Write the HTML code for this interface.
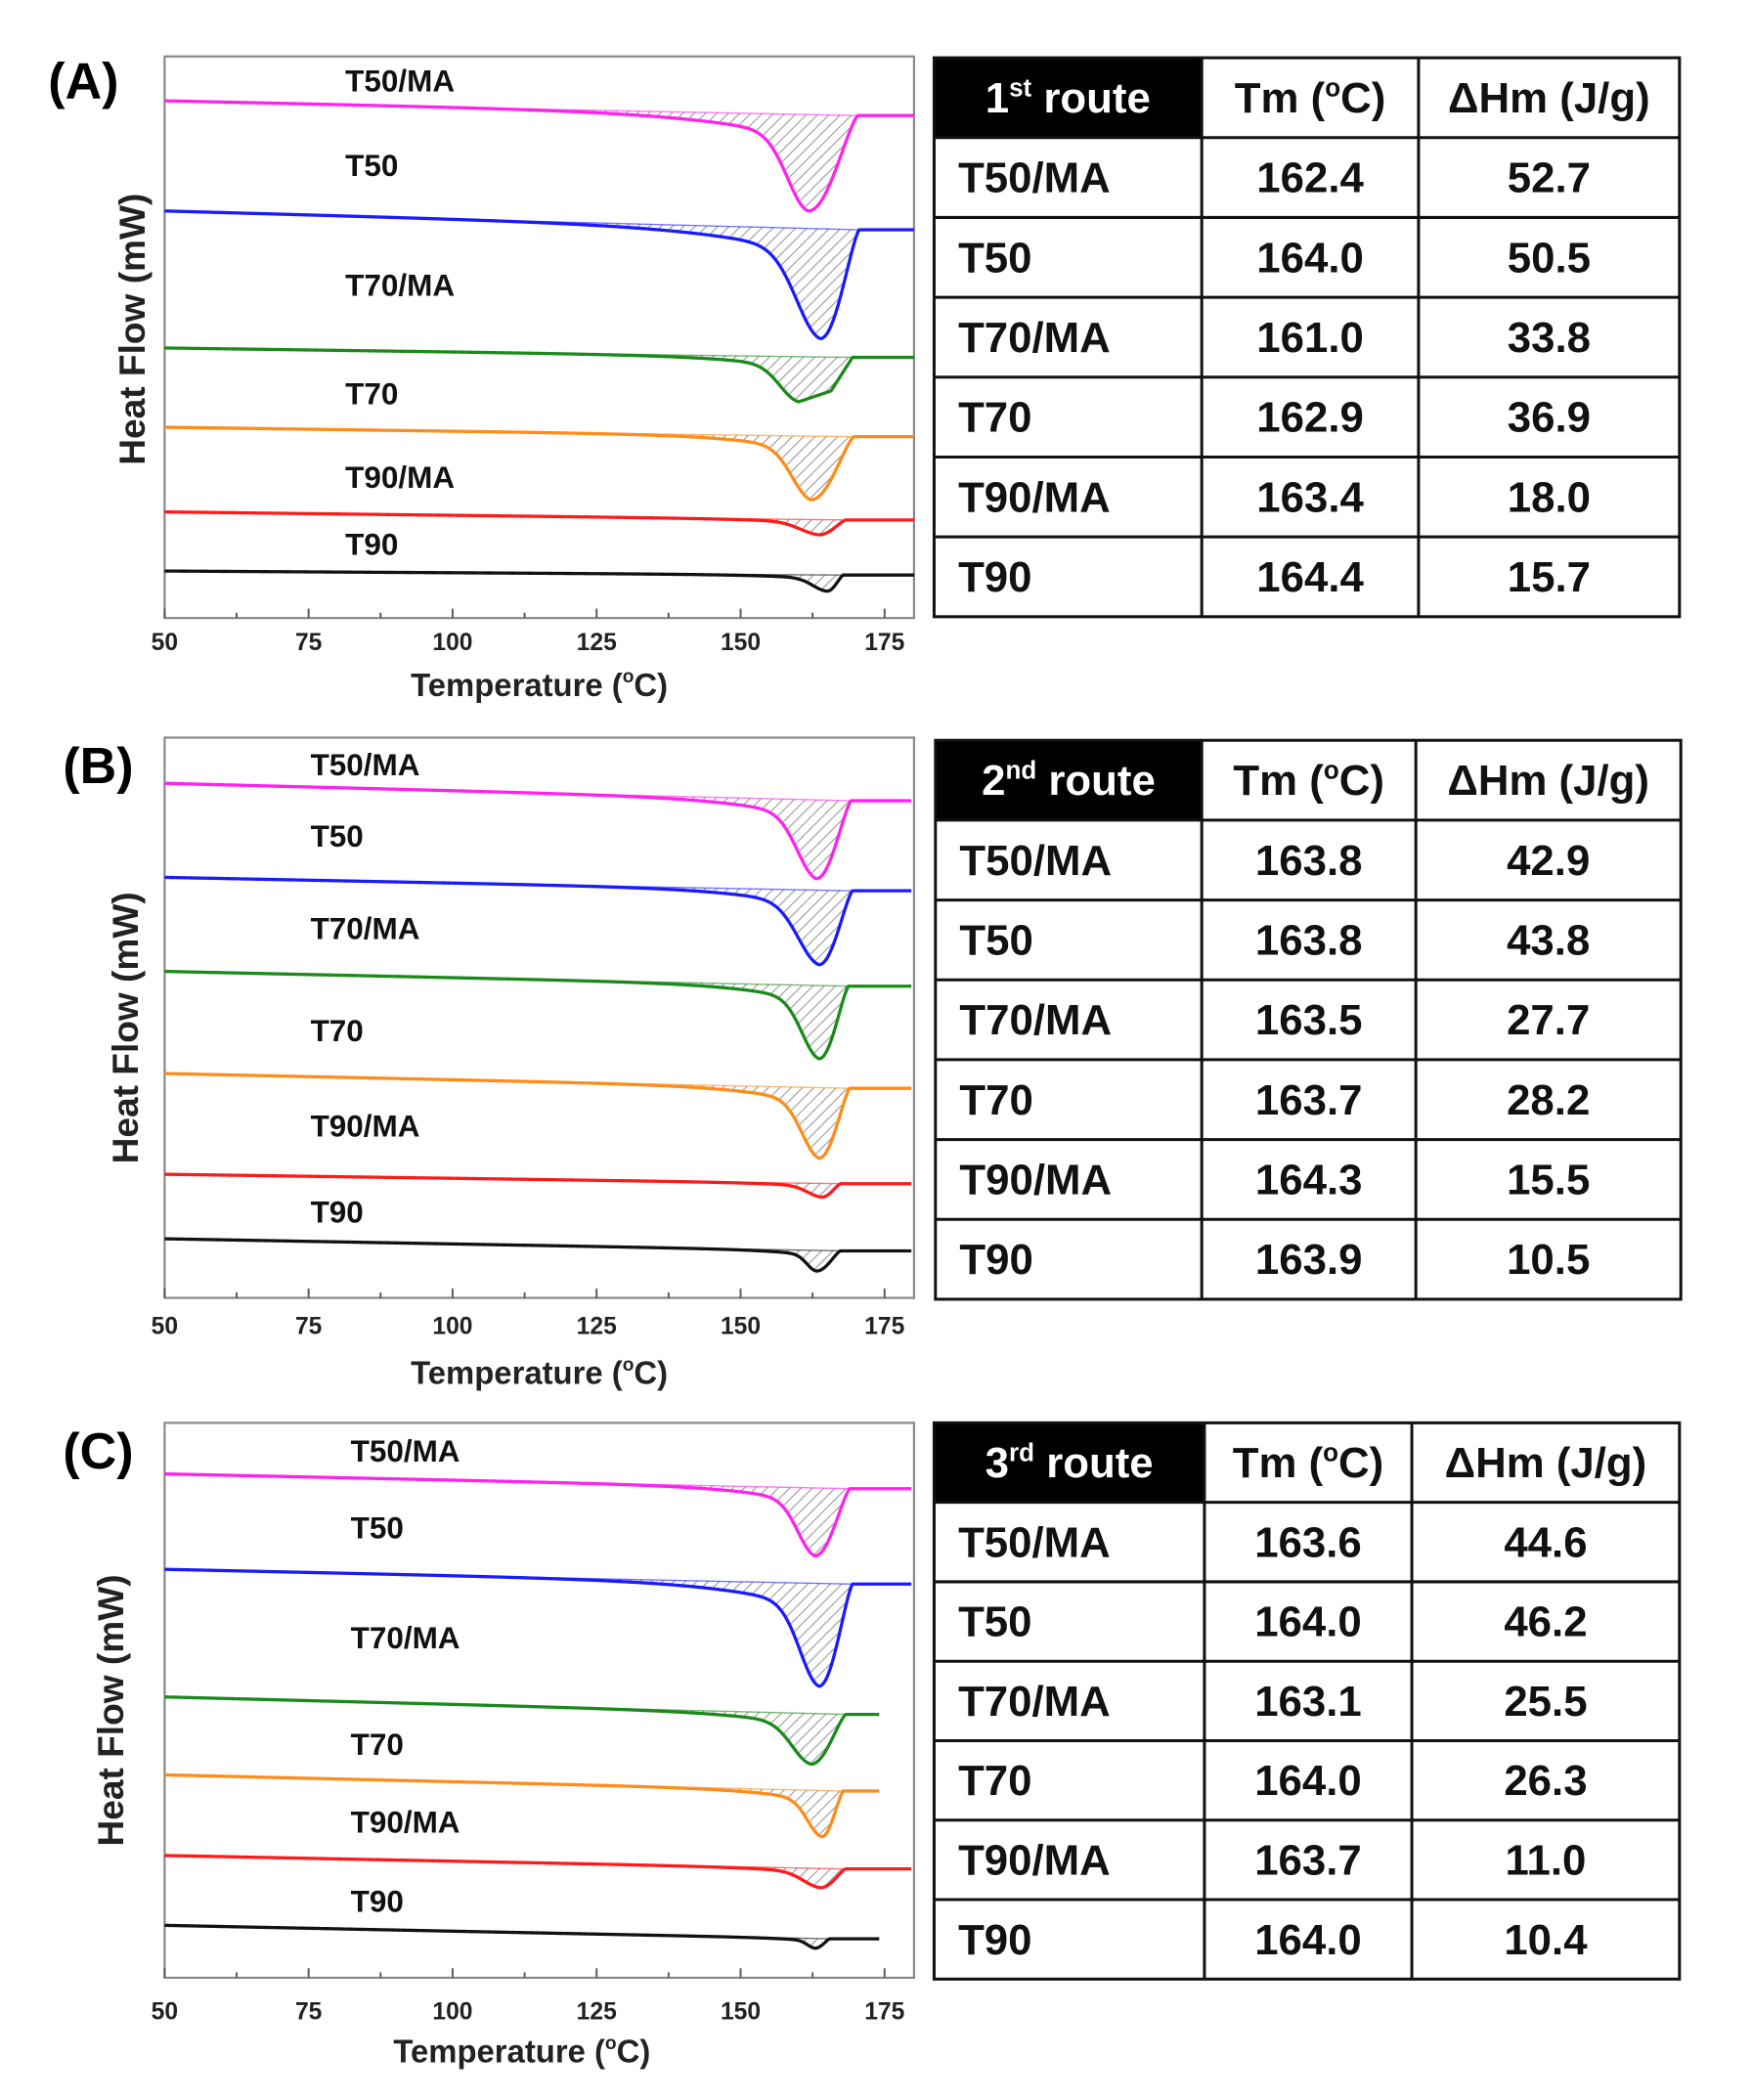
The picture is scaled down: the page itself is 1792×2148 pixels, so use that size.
<!DOCTYPE html>
<html><head><meta charset="utf-8"><style>
html,body{margin:0;padding:0;background:#fff;}
svg{display:block;}
text{font-family:"Liberation Sans",Arial,sans-serif;font-weight:bold;}
</style></head><body>
<svg id="s" width="1792" height="2148" viewBox="0 0 1300 1558.3" xmlns="http://www.w3.org/2000/svg">
<defs>
<pattern id="h" patternUnits="userSpaceOnUse" width="6" height="6" patternTransform="rotate(45)">
<rect width="6" height="6" fill="#fff"/><line x1="0" y1="0" x2="0" y2="6" stroke="#999" stroke-width="1.6"/>
</pattern>
</defs>
<rect width="1300" height="1558.3" fill="#fff"/>
<g transform="scale(0.993,0.997)">
<g id="plots"></g>

<text x="36" y="73" font-size="38">(A)</text>
<text x="47" y="583" font-size="38">(B)</text>
<text x="47" y="1093" font-size="38">(C)</text>

<text transform="translate(108,245) rotate(-90)" font-size="27" text-anchor="middle" fill="#222">Heat Flow (mW)</text>
<text transform="translate(103,765) rotate(-90)" font-size="27" text-anchor="middle" fill="#222">Heat Flow (mW)</text>
<text transform="translate(92,1273) rotate(-90)" font-size="27" text-anchor="middle" fill="#222">Heat Flow (mW)</text>

<g font-size="23" fill="#111">
<text x="258" y="68">T50/MA</text><text x="258" y="131">T50</text><text x="258" y="220">T70/MA</text>
<text x="258" y="301">T70</text><text x="258" y="363">T90/MA</text><text x="258" y="413">T90</text>
<text x="232" y="577">T50/MA</text><text x="232" y="630">T50</text><text x="232" y="699">T70/MA</text>
<text x="232" y="775">T70</text><text x="232" y="846">T90/MA</text><text x="232" y="910">T90</text>
<text x="262" y="1088">T50/MA</text><text x="262" y="1145">T50</text><text x="262" y="1227">T70/MA</text>
<text x="262" y="1306">T70</text><text x="262" y="1364">T90/MA</text><text x="262" y="1423">T90</text>
</g>

<g font-size="18" fill="#222" text-anchor="middle">
<text x="123" y="484">50</text><text x="230.6" y="484">75</text><text x="338.2" y="484">100</text><text x="445.8" y="484">125</text><text x="553.4" y="484">150</text><text x="661" y="484">175</text>
<text x="123" y="993">50</text><text x="230.6" y="993">75</text><text x="338.2" y="993">100</text><text x="445.8" y="993">125</text><text x="553.4" y="993">150</text><text x="661" y="993">175</text>
<text x="123" y="1503">50</text><text x="230.6" y="1503">75</text><text x="338.2" y="1503">100</text><text x="445.8" y="1503">125</text><text x="553.4" y="1503">150</text><text x="661" y="1503">175</text>
</g>
<g font-size="24" fill="#222" text-anchor="middle">
<text x="403" y="518">Temperature (<tspan font-size="14" dy="-10">o</tspan><tspan dy="10">C)</tspan></text>
<text x="403" y="1030">Temperature (<tspan font-size="14" dy="-10">o</tspan><tspan dy="10">C)</tspan></text>
<text x="390" y="1535">Temperature (<tspan font-size="14" dy="-10">o</tspan><tspan dy="10">C)</tspan></text>
</g>

<g id="tables"></g>
</g>
</svg>
<script>
var NS="http://www.w3.org/2000/svg";
var plots=document.getElementById('plots');
function el(tag,attrs,parent,txt){var e=document.createElementNS(NS,tag);for(var k in attrs)e.setAttribute(k,attrs[k]);if(txt!==undefined)e.textContent=txt;(parent||plots).appendChild(e);return e;}
function frame(y0,y1){
 el('rect',{x:123,y:y0,width:560,height:y1-y0,fill:'none',stroke:'#888','stroke-width':1.6});
 for(var t=50;t<=180;t+=12.5){var x=123+(t-50)*4.304;var major=(t%25===0);
  el('line',{x1:x,y1:y1,x2:x,y2:y1-(major?7:4),stroke:'#555','stroke-width':1.4});}
}
function curve(c){
 var pts=[];var base=function(x){ if(x>=c.xe) return c.y1; return c.y0+(c.y1-c.y0)*(x-123)/(c.xe-123);};
 var d=c.yb-base(c.xp);
 for(var x=123;x<=c.xend;x+=1){
  var y=base(x),dip;
  if(x<=c.xp){var u=c.xp-x;dip=d*(0.72*Math.exp(-Math.pow(u/c.wl,2))+0.28*Math.exp(-u/c.tl));}
  else if(x<c.xe){var u=(x-c.xp)/(c.xe-c.xp);dip=d*Math.pow(Math.cos(u*Math.PI/2),1.3);}
  else dip=0;
  if(c.sh&&x>c.xp&&x<c.xe){var u2=(x-c.xp)/(c.xe-c.xp);dip=d*(u2<0.6?1-0.25*u2/0.6:0.75*(1-(u2-0.6)/0.4));}
  pts.push([x,y+dip]);
 }
 var xs=330;var ys=pts[xs-123][1];
 var hp='M'+xs+','+ys;
 for(var i=xs-123;i<pts.length&&pts[i][0]<=c.xe;i++)hp+=' L'+pts[i][0]+','+pts[i][1].toFixed(2);
 hp+=' Z';
 el('path',{d:hp,fill:'url(#h)',stroke:'none'});
 el('line',{x1:xs,y1:ys,x2:c.xe,y2:c.y1,stroke:c.col,'stroke-width':1,opacity:0.6});
 var p='M'+pts.map(function(q){return q[0]+','+q[1].toFixed(2);}).join(' L');
 el('path',{d:p,fill:'none',stroke:c.col,'stroke-width':2.4,'stroke-linejoin':'round'});
}
var M='#ff22ee',B='#1a1aff',G='#1a8a1a',O='#ff8c1a',R='#ff1a1a',K='#111';
frame(42,460);
[[M,75,86,604,157,641,683,22,70],[B,157,171,613,252,642,683,25,70],[G,259,266,597,299,637,683,20,50,1],[O,318,325,606,372,638,683,20,45],[R,381,387,612,398,632,683,20,40],[K,425,428,618,440,630,683,15,40]].forEach(function(a){curve({col:a[0],y0:a[1],y1:a[2],xp:a[3],yb:a[4],xe:a[5],xend:a[6],wl:a[7],tl:a[8],sh:a[9]});});
frame(549,966);
[[M,583,596,610,654,636,681,20,50],[B,653,663,612,718,637,681,22,50],[G,723,734,612,788,634,681,18,45],[O,799,810,612,862,635,681,18,45],[R,874,881,614,891,628,681,15,35],[K,922,931,610,946,628,681,10,30]].forEach(function(a){curve({col:a[0],y0:a[1],y1:a[2],xp:a[3],yb:a[4],xe:a[5],xend:a[6],wl:a[7],tl:a[8]});});
frame(1059,1472);
[[M,1097,1108,609,1158,635,681,18,45],[B,1168,1179,612,1255,637,681,20,60],[G,1263,1276,606,1313,632,657,20,50],[O,1321,1333,614,1367,630,657,15,40],[R,1381,1391,613,1405,632,681,18,40],[K,1433,1443,609,1450,620,657,8,25]].forEach(function(a){curve({col:a[0],y0:a[1],y1:a[2],xp:a[3],yb:a[4],xe:a[5],xend:a[6],wl:a[7],tl:a[8]});});

var tg=document.getElementById('tables');
function table(x0,x1,x2,x3,y0,y3,ord,data){
 var rh=(y3-y0)/7;
 el('rect',{x:x0,y:y0,width:x1-x0,height:rh,fill:'#000'},tg);
 el('rect',{x:x0,y:y0,width:x3-x0,height:y3-y0,fill:'none',stroke:'#111','stroke-width':2.2},tg);
 for(var i=1;i<7;i++)el('line',{x1:x0,y1:y0+i*rh,x2:x3,y2:y0+i*rh,stroke:'#111','stroke-width':2.2},tg);
 [x1,x2].forEach(function(x){el('line',{x1:x,y1:y0,x2:x,y2:y3,stroke:'#111','stroke-width':2.2},tg);});
 var t=el('text',{x:(x0+x1)/2,y:y0+rh/2+11,'font-size':32,fill:'#fff','text-anchor':'middle'},tg);
 t.innerHTML=ord[0]+'<tspan font-size="19" dy="-12">'+ord[1]+'</tspan><tspan dy="12"> route</tspan>';
 var t2=el('text',{x:(x1+x2)/2,y:y0+rh/2+11,'font-size':32,fill:'#111','text-anchor':'middle'},tg);
 t2.innerHTML='Tm (<tspan font-size="19" dy="-12">o</tspan><tspan dy="12">C)</tspan>';
 el('text',{x:(x2+x3)/2,y:y0+rh/2+11,'font-size':32,fill:'#111','text-anchor':'middle'},tg,'ΔHm (J/g)');
 var names=['T50/MA','T50','T70/MA','T70','T90/MA','T90'];
 for(var i=0;i<6;i++){var yy=y0+(i+1)*rh+rh/2+11;
  el('text',{x:x0+18,y:yy,'font-size':32,fill:'#111'},tg,names[i]);
  el('text',{x:(x1+x2)/2,y:yy,'font-size':32,fill:'#111','text-anchor':'middle'},tg,data[i][0]);
  el('text',{x:(x2+x3)/2,y:yy,'font-size':32,fill:'#111','text-anchor':'middle'},tg,data[i][1]);}
}
table(698,898,1060,1255,43,459,['1','st'],[['162.4','52.7'],['164.0','50.5'],['161.0','33.8'],['162.9','36.9'],['163.4','18.0'],['164.4','15.7']]);
table(699,898,1058,1256,551,967,['2','nd'],[['163.8','42.9'],['163.8','43.8'],['163.5','27.7'],['163.7','28.2'],['164.3','15.5'],['163.9','10.5']]);
table(698,900,1055,1255,1059,1473,['3','rd'],[['163.6','44.6'],['164.0','46.2'],['163.1','25.5'],['164.0','26.3'],['163.7','11.0'],['164.0','10.4']]);
</script>
</body></html>
